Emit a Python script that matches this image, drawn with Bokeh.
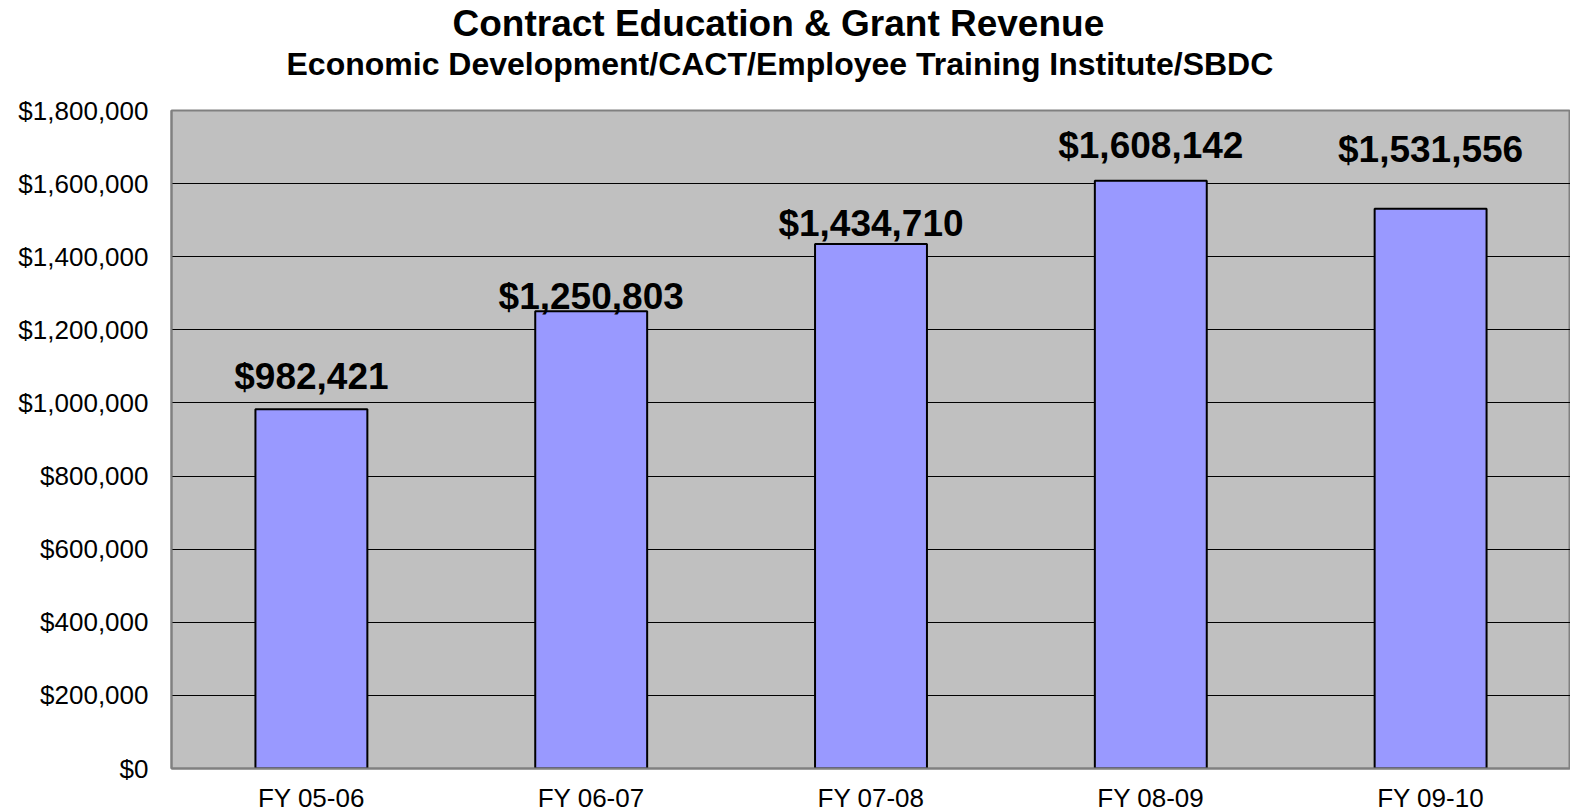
from bokeh.plotting import figure
from bokeh.models import (ColumnDataSource, FactorRange, Range1d, FixedTicker,
                          NumeralTickFormatter, Title)
from bokeh.core.properties import value
from bokeh.embed import file_html
from bokeh.resources import INLINE

# ---- data ----
categories = ["FY 05-06", "FY 06-07", "FY 07-08", "FY 08-09", "FY 09-10"]
revenue = [982421, 1250803, 1434710, 1608142, 1531556]
y_ticks = [0, 200000, 400000, 600000, 800000, 1000000, 1200000, 1400000, 1600000, 1800000]

# label lift above bar tops (screen px), as in the reference
label_lift = [33, 15, 21, 35, 59]

FONT = "Liberation Sans"

src = ColumnDataSource(dict(
    cat=categories,
    val=revenue,
    lab=[f"${v:,}" for v in revenue],
    yoff=[-l for l in label_lift],
))

p = figure(
    x_range=FactorRange(*categories, range_padding=0),
    y_range=Range1d(0, 1800000),
    frame_width=1399, frame_height=658,
    min_border_left=171, min_border_right=0, min_border_top=110, min_border_bottom=44,
    output_backend="svg", toolbar_location=None, title=None,
    background_fill_color="#C0C0C0", border_fill_color="white",
)

spacer = Title(text=" ", text_font=FONT, text_font_size="1px", standoff=26)
sub = Title(text="Economic Development/CACT/Employee Training Institute/SBDC",
            align="left", offset=115, text_font=FONT, text_font_size="32px",
            text_font_style="bold", text_color="black", standoff=0)
main = Title(text="Contract Education & Grant Revenue",
             align="left", offset=281, text_font=FONT, text_font_size="37px",
             text_font_style="bold", text_color="black", standoff=0)
p.add_layout(spacer, "above")
p.add_layout(sub, "above")
p.add_layout(main, "above")

p.vbar(x="cat", top="val", width=0.4, source=src,
       fill_color="#9999FF", line_color="black", line_width=2)

p.text(x="cat", y="val", text="lab", source=src, y_offset="yoff",
       text_align="center", text_baseline="alphabetic",
       text_font=value(FONT), text_font_size="37px", text_font_style="bold",
       text_color="black")

p.outline_line_color = "#808080"
p.outline_line_width = 2

p.xgrid.grid_line_color = None
p.ygrid.ticker = FixedTicker(ticks=y_ticks)
p.ygrid.grid_line_color = "black"
p.ygrid.grid_line_width = 1

p.yaxis.ticker = FixedTicker(ticks=y_ticks)
p.yaxis.formatter = NumeralTickFormatter(format="$0,0")
for ax in (p.xaxis, p.yaxis):
    ax.major_tick_line_color = None
    ax.minor_tick_line_color = None
    ax.axis_line_color = "#808080"
    ax.axis_line_width = 2
    ax.major_label_text_font = FONT
    ax.major_label_text_color = "black"
p.yaxis.major_label_text_font_size = "26px"
p.yaxis.major_label_standoff = 17
p.xaxis.major_label_text_font_size = "26px"
p.xaxis.major_label_standoff = 8

open("out.html", "w").write(file_html(p, INLINE))
